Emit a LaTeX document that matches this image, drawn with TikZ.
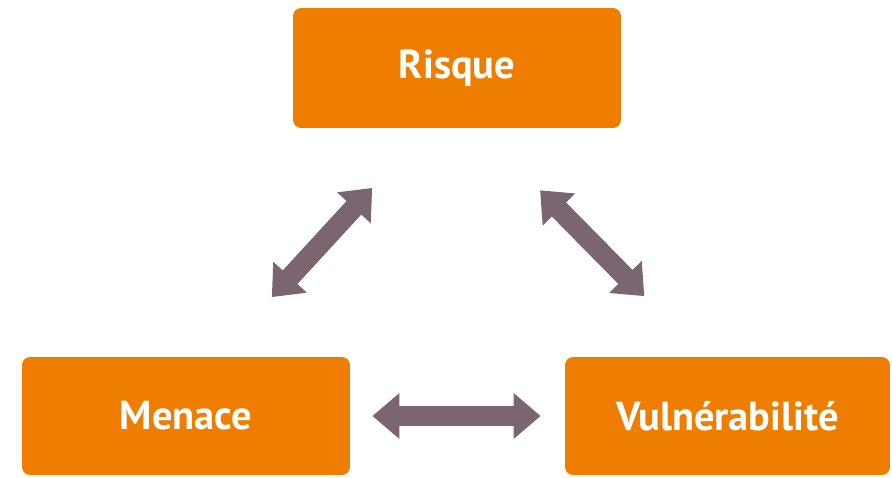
\documentclass[tikz,border=0pt]{standalone}
\usepackage{fontspec}
\setmainfont{PT Sans}
\usetikzlibrary{arrows.meta}
\definecolor{orangebox}{HTML}{EE7D00}
\definecolor{mauve}{HTML}{7A6570}
\tikzset{
    boite/.style={fill=orangebox, rounded corners=0.16cm, text=white, font=\fontsize{23}{26}\selectfont\bfseries, inner sep=0pt},
    fleche/.style={draw=mauve, line width=0.4cm, {Triangle[width=0.88cm,length=0.54cm]}-{Triangle[width=0.88cm,length=0.54cm]}}
}
\begin{document}
\begin{tikzpicture}[x=0.02cm,y=-0.02cm]
\useasboundingbox (0,0) rectangle (892,477);
\node[boite, minimum width=6.56cm, minimum height=2.4cm] (risque) at (457,68) {Risque};
\node[boite, minimum width=6.56cm, minimum height=2.36cm] (menace) at (186,416) {Menace};
\node[boite, minimum width=6.5cm, minimum height=2.36cm] (vuln) at (727.5,416) {Vulnérabilité};
\draw[fleche, shorten <=0.44cm, shorten >=0.48cm] (menace.east) -- (vuln.west);
\draw[fleche, shorten <=1.62cm, shorten >=1.62cm] ([xshift=0.62cm]menace.north) -- ([xshift=-0.6cm]risque.south);
\draw[fleche, shorten <=1.74cm, shorten >=1.7cm] ([xshift=0.44cm]risque.south) -- ([xshift=-0.47cm]vuln.north);
\end{tikzpicture}
\end{document}
